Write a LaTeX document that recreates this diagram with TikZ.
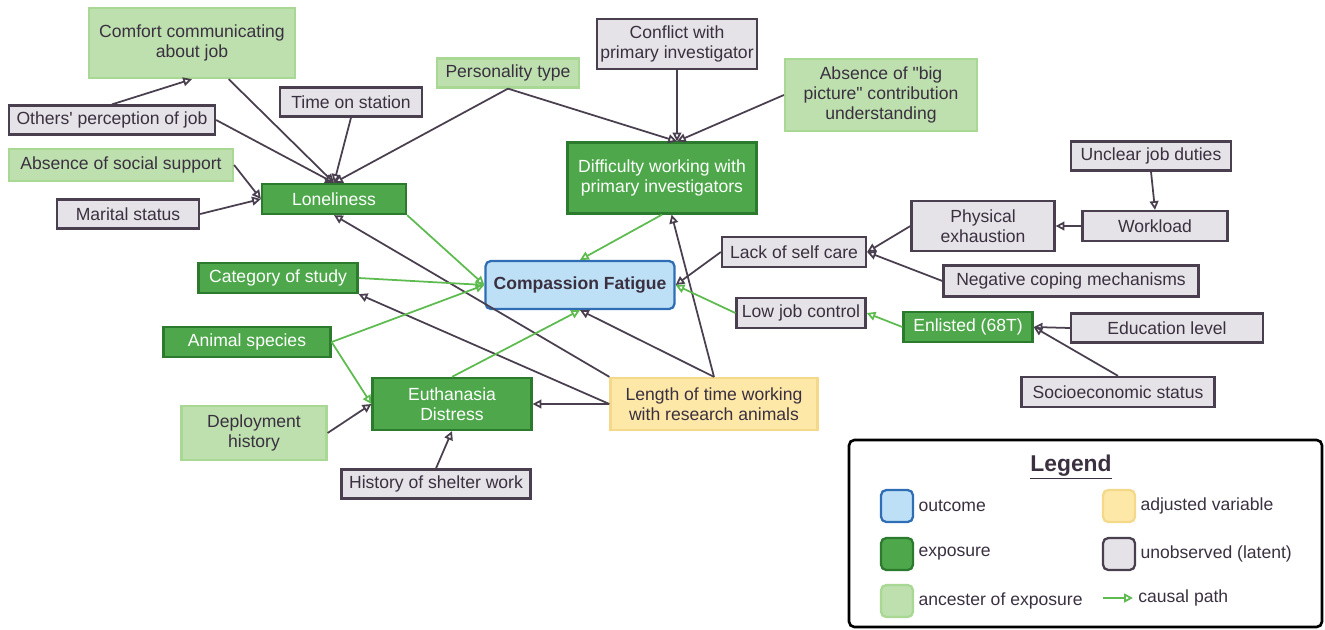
\documentclass[tikz,border=0pt]{standalone}
\usepackage{fontspec}
\setmainfont{Liberation Sans}
\newfontfamily\diagfont{Liberation Sans}
\usetikzlibrary{arrows.meta}
\usetikzlibrary{positioning}

\definecolor{latentline}{HTML}{4A3F4F}
\definecolor{latentfill}{HTML}{E5E3E7}
\definecolor{expline}{HTML}{2C7A2E}
\definecolor{expfill}{HTML}{4EA84B}
\definecolor{ancline}{HTML}{A9D794}
\definecolor{ancfill}{HTML}{BDE0AE}
\definecolor{outline}{HTML}{2F6DB5}
\definecolor{outfill}{HTML}{BEE0F6}
\definecolor{adjline}{HTML}{F5D98A}
\definecolor{adjfill}{HTML}{FDE8A8}
\definecolor{causalgreen}{HTML}{5DBB4F}
\definecolor{textdark}{HTML}{3A3040}

\tikzset{
  outcome/.style={draw=outline,fill=outfill,text=textdark,rounded corners=3pt,font=\diagfont\bfseries\fontsize{10}{11.5}\selectfont},
  exposure/.style={draw=expline,fill=expfill,text=white},
  ancestor/.style={draw=ancline,fill=ancfill,text=textdark},
  latent/.style={draw=latentline,fill=latentfill,text=textdark},
  adjusted/.style={draw=adjline,fill=adjfill,text=textdark},
  causal/.style={draw=causalgreen},
}

\begin{document}
\begin{tikzpicture}[x=0.02cm,y=-0.02cm]
    \useasboundingbox (0,0) rectangle (1325,629);

        % Add or remove variables here, use the tuple for location (pixels)
        \begin{scope}[every node/.style={draw,line width=1.3pt,align=center,inner sep=1pt,
                      font=\diagfont\fontsize{10}{11.5}\selectfont}]
        \node[ancestor,minimum width=4.12cm,minimum height=1.4cm] (Comfort) at (192,43) {Comfort communicating\\about job};
        \node[latent,minimum width=4.12cm,minimum height=0.58cm] (Others) at (112,120) {Others' perception of job};
        \node[latent,minimum width=2.84cm,minimum height=0.58cm] (Station) at (351,102) {Time on station};
        \node[ancestor,minimum width=2.84cm,minimum height=0.58cm] (Personality) at (508,73) {Personality type};
        \node[latent,minimum width=3.2cm,minimum height=1.0cm] (Conflict) at (677,44) {Conflict with\\primary investigator};
        \node[ancestor,minimum width=3.84cm,minimum height=1.44cm] (BigPicture) at (881,95) {Absence of "big\\picture" contribution\\understanding};
        \node[ancestor,minimum width=4.48cm,minimum height=0.64cm] (Social) at (121,165) {Absence of social support};
        \node[latent,minimum width=2.84cm,minimum height=0.58cm] (Marital) at (128,214) {Marital status};
        \node[exposure,minimum width=2.88cm,minimum height=0.6cm] (Lonely) at (334,199) {Loneliness};
        \node[exposure,minimum width=3.78cm,minimum height=1.42cm] (Difficulty) at (662,178) {Difficulty working with\\primary investigators};

        \node[latent,minimum width=3.2cm,minimum height=0.58cm] (Unclear) at (1151,156) {Unclear job duties};
        \node[latent,minimum width=2.86cm,minimum height=1.0cm] (Physical) at (983,226) {Physical\\exhaustion};
        \node[latent,minimum width=2.9cm,minimum height=0.6cm] (Workload) at (1155,226) {Workload};
        \node[latent,minimum width=2.88cm,minimum height=0.6cm] (SelfCare) at (794,252) {Lack of self care};
        \node[latent,minimum width=5.1cm,minimum height=0.62cm] (Coping) at (1071,281) {Negative coping mechanisms};

        \node[outcome,minimum width=3.78cm,minimum height=0.96cm] (CF) at (580,285) {Compassion Fatigue};

        \node[exposure,minimum width=3.18cm,minimum height=0.6cm] (Category) at (278,278) {Category of study};
        \node[latent,minimum width=2.58cm,minimum height=0.6cm] (LowCtrl) at (801,313) {Low job control};
        \node[exposure,minimum width=2.58cm,minimum height=0.6cm] (Enlisted) at (968,327) {Enlisted (68T)};
        \node[latent,minimum width=3.84cm,minimum height=0.58cm] (Education) at (1167,328) {Education level};
        \node[latent,minimum width=3.86cm,minimum height=0.6cm] (Socio) at (1118,392) {Socioeconomic status};
        \node[exposure,minimum width=3.34cm,minimum height=0.6cm] (Species) at (247,342) {Animal species};
        \node[exposure,minimum width=3.18cm,minimum height=1.04cm] (Euthanasia) at (452,404) {Euthanasia\\Distress};
        \node[adjusted,minimum width=4.14cm,minimum height=1.04cm] (Length) at (714,404) {Length of time working\\with research animals};
        \node[ancestor,minimum width=2.9cm,minimum height=1.08cm] (Deployment) at (254,433) {Deployment\\history};
        \node[latent,minimum width=3.78cm,minimum height=0.58cm] (Shelter) at (436,484) {History of shelter work};
        \end{scope}

        % biasing paths (grey) and causal paths (green)
        % Remove or add new edges here
        \begin{scope}[>={Triangle[open,length=5pt,width=5pt]},
                  every edge/.style={draw=latentline, line width=1pt}]
        \path [->] (Others.north) edge[] (Comfort.south);
        \path [->] (Others.east) edge[] (Lonely.north);
        \path [->] (Comfort) edge[] (Lonely.north);
        \path [->] (Station.south) edge[] (Lonely.north);
        \path [->] (Personality.south) edge[] (Lonely.north);
        \path [->] (Personality.south) edge[] (Conflict.south |- Difficulty.north);
        \path [->] (Conflict.south) edge[] (Conflict.south |- Difficulty.north);
        \path [->] (BigPicture.west) edge[] (Conflict.south |- Difficulty.north);
        \path [->] (Social.east) edge[] (Lonely.west);
        \path [->] (Marital.east) edge[] (Lonely.west);

        \path [->] (Unclear.south) edge[] (Workload.north);
        \path [->] (Workload.west) edge[] (Physical.east);
        \path [->] (Physical.west) edge[] (SelfCare.east);
        \path [->] (Coping.west) edge[] (SelfCare.east);
        \path [->] (SelfCare.west) edge[] (CF.east);
        \path [->] (Education.west) edge[] (Enlisted.east);
        \path [->] (Socio.north) edge[] (Enlisted.east);

        \path [->] (Length.north west) edge[] (Lonely.south);
        \path [->] (Length.west) edge[] (Category.south east);
        \path [->] (Length.west) edge[] (Euthanasia.east);
        \path [->] (Length.north) edge[] (CF.south);
        \path [->] (Length.north) edge[] (Difficulty);
        \path [->] (Deployment.east) edge[] (Euthanasia.west);
        \path [->] (Shelter.north) edge[] (Euthanasia.south);

        \path [->] (Lonely.south east) edge[causal] (CF.west);
        \path [->] (Difficulty.south) edge[causal] (CF.north);
        \path [->] (Category.east) edge[causal] (CF.west);
        \path [->] (Species.east) edge[causal] (CF.west);
        \path [->] (Species.east) edge[causal] (Euthanasia.west);
        \path [->] (Euthanasia.north) edge[causal] (CF.south);
        \path [->] (LowCtrl.west) edge[causal] (CF.east);
        \path [->] (Enlisted.west) edge[causal] (LowCtrl.east);
        \end{scope}

        % legend
        \node[draw=black,line width=1.5pt,rounded corners=3pt,minimum width=9.46cm,minimum height=3.74cm] (Legend) at (1085.5,533.5) {};
        \node[text=textdark,font=\diagfont\bfseries\fontsize{13}{15}\selectfont] (LegendTitle) at (1071,467) {\underline{Legend}};
        \begin{scope}[every node/.style={line width=1.3pt,rounded corners=3pt,minimum size=0.64cm,inner sep=0pt}]
        \node[outcome] (KeyOutcome) at (897,506) {};
        \node[exposure] (KeyExposure) at (897,554) {};
        \node[ancestor] (KeyAncestor) at (897,601) {};
        \node[adjusted] (KeyAdjusted) at (1119,506) {};
        \node[latent] (KeyLatent) at (1119,554) {};
        \end{scope}
        \coordinate (KeyA) at (1103,598);
        \coordinate (KeyB) at (1133,598);
        \path [->,>={Triangle[open,length=5pt,width=5pt]}] (KeyA) edge[draw=causalgreen,line width=1pt] (KeyB);
        \begin{scope}[every node/.style={text=textdark,font=\diagfont\fontsize{10}{12}\selectfont,inner sep=0pt}]
        \node[right=0.08cm of KeyOutcome] (TxtOutcome) {outcome};
        \node[right=0.08cm of KeyExposure] (TxtExposure) {exposure};
        \node[right=0.08cm of KeyAncestor] (TxtAncestor) {ancester of exposure};
        \node[right=0.08cm of KeyAdjusted] (TxtAdjusted) {adjusted variable};
        \node[right=0.08cm of KeyLatent] (TxtLatent) {unobserved (latent)};
        \node[right=0.1cm of KeyB] (TxtCausal) {causal path};
        \end{scope}

\end{tikzpicture}
\end{document}
